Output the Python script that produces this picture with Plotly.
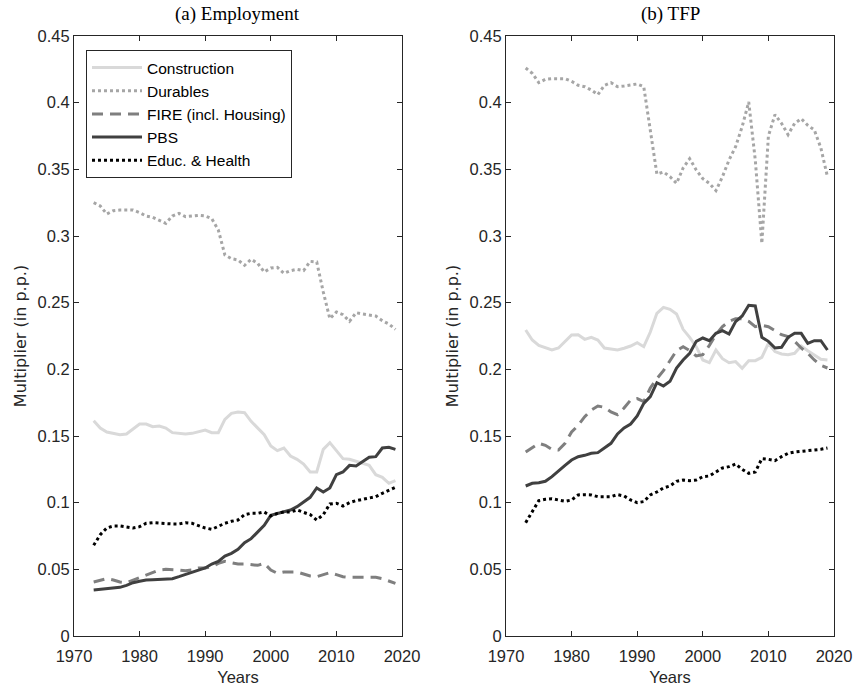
import plotly.graph_objects as go

years = list(range(1973, 2020))

# Panel (a) Employment
emp_construction = [0.1615, 0.156, 0.153, 0.152, 0.151, 0.1515, 0.155, 0.159, 0.159, 0.157,
                    0.1575, 0.156, 0.1525, 0.152, 0.1515, 0.152, 0.153, 0.1545, 0.1525, 0.1525,
                    0.1625, 0.167, 0.168, 0.1675, 0.161, 0.156, 0.151, 0.1425, 0.139, 0.141,
                    0.135, 0.1325, 0.129, 0.123, 0.123, 0.140, 0.145, 0.139, 0.133, 0.1325,
                    0.131, 0.129, 0.128, 0.121, 0.119, 0.1145, 0.1165]
emp_durables = [0.325, 0.3225, 0.3165, 0.319, 0.3195, 0.3195, 0.3195, 0.3175, 0.315, 0.314,
                0.312, 0.3095, 0.315, 0.317, 0.3145, 0.315, 0.3155, 0.315, 0.313, 0.3045,
                0.2858, 0.283, 0.282, 0.278, 0.2825, 0.2795, 0.273, 0.276, 0.2765, 0.272,
                0.274, 0.275, 0.274, 0.281, 0.2805, 0.258, 0.238, 0.243, 0.241, 0.236,
                0.2425, 0.2415, 0.241, 0.240, 0.2365, 0.234, 0.230]
emp_fire = [0.0405, 0.0415, 0.043, 0.042, 0.0405, 0.040, 0.042, 0.044, 0.046, 0.048,
            0.0495, 0.050, 0.050, 0.0495, 0.049, 0.0495, 0.051, 0.051, 0.052, 0.0545,
            0.056, 0.055, 0.054, 0.054, 0.0535, 0.053, 0.0545, 0.0495, 0.047, 0.048,
            0.048, 0.048, 0.0465, 0.045, 0.0445, 0.046, 0.0475, 0.046, 0.0445, 0.044,
            0.044, 0.044, 0.044, 0.044, 0.043, 0.041, 0.0395]
emp_pbs = [0.0345, 0.035, 0.0352, 0.0355, 0.0365, 0.038, 0.040, 0.041, 0.042, 0.0422,
           0.0425, 0.0428, 0.043, 0.0445, 0.046, 0.048, 0.049, 0.051, 0.054, 0.056,
           0.060, 0.062, 0.065, 0.070, 0.073, 0.078, 0.083, 0.0905, 0.092, 0.093,
           0.0945, 0.097, 0.1005, 0.104, 0.111, 0.108, 0.111, 0.121, 0.123, 0.128,
           0.1275, 0.131, 0.134, 0.1345, 0.141, 0.1415, 0.140]
emp_educ = [0.068, 0.076, 0.081, 0.0825, 0.0825, 0.082, 0.081, 0.082, 0.0845, 0.085,
            0.0845, 0.084, 0.084, 0.084, 0.085, 0.0845, 0.0825, 0.081, 0.080, 0.0825,
            0.0845, 0.086, 0.087, 0.091, 0.092, 0.092, 0.093, 0.090, 0.092, 0.093,
            0.093, 0.0945, 0.093, 0.091, 0.087, 0.091, 0.099, 0.0995, 0.0975, 0.100,
            0.1015, 0.1025, 0.103, 0.1045, 0.107, 0.109, 0.1115]

# Panel (b) TFP
tfp_construction = [0.2295, 0.222, 0.218, 0.216, 0.2145, 0.216, 0.221, 0.2258, 0.226, 0.2225,
                    0.224, 0.222, 0.216, 0.215, 0.2145, 0.2158, 0.2175, 0.220, 0.217, 0.228,
                    0.242, 0.2465, 0.245, 0.2415, 0.230, 0.224, 0.217, 0.207, 0.205, 0.2145,
                    0.208, 0.205, 0.2058, 0.2008, 0.2065, 0.2065, 0.209, 0.2195, 0.2133, 0.2115,
                    0.211, 0.212, 0.2175, 0.214, 0.211, 0.2075, 0.207]
tfp_durables = [0.426, 0.422, 0.415, 0.4175, 0.418, 0.418, 0.418, 0.416, 0.413, 0.412,
                0.4095, 0.406, 0.413, 0.415, 0.412, 0.4125, 0.413, 0.414, 0.412, 0.380,
                0.3465, 0.348, 0.3445, 0.3395, 0.351, 0.358, 0.3495, 0.343, 0.3395, 0.334,
                0.3445, 0.357, 0.367, 0.382, 0.4005, 0.357, 0.2945, 0.375, 0.391, 0.3845,
                0.376, 0.3845, 0.388, 0.383, 0.3795, 0.366, 0.3445]
tfp_fire = [0.138, 0.141, 0.1445, 0.143, 0.140, 0.1395, 0.1445, 0.153, 0.158, 0.1645,
            0.1695, 0.1725, 0.1715, 0.168, 0.166, 0.171, 0.177, 0.178, 0.1758, 0.186,
            0.193, 0.199, 0.207, 0.214, 0.217, 0.214, 0.210, 0.211, 0.218, 0.226,
            0.232, 0.236, 0.238, 0.238, 0.236, 0.232, 0.233, 0.232, 0.229, 0.226,
            0.2245, 0.221, 0.216, 0.212, 0.207, 0.203, 0.201]
tfp_pbs = [0.1125, 0.1145, 0.115, 0.116, 0.1195, 0.124, 0.128, 0.132, 0.1345, 0.1355,
           0.137, 0.1375, 0.141, 0.1445, 0.1515, 0.156, 0.159, 0.165, 0.1745, 0.1795,
           0.190, 0.1875, 0.191, 0.201, 0.207, 0.212, 0.221, 0.2235, 0.2215, 0.227,
           0.229, 0.2265, 0.2358, 0.240, 0.248, 0.2475, 0.224, 0.221, 0.216, 0.2165,
           0.224, 0.227, 0.227, 0.2195, 0.2215, 0.2215, 0.2145]
tfp_educ = [0.085, 0.093, 0.1015, 0.1025, 0.103, 0.102, 0.101, 0.102, 0.1058, 0.106,
            0.1058, 0.1045, 0.1045, 0.1045, 0.106, 0.105, 0.102, 0.100, 0.1008, 0.1058,
            0.108, 0.111, 0.1125, 0.116, 0.117, 0.1165, 0.117, 0.1195, 0.120, 0.123,
            0.126, 0.127, 0.129, 0.125, 0.122, 0.123, 0.133, 0.1325, 0.1315, 0.1345,
            0.137, 0.138, 0.1385, 0.139, 0.139, 0.140, 0.141]

series_names = ["Construction", "Durables", "FIRE (incl. Housing)", "PBS", "Educ. & Health"]
panel_titles = ["(a) Employment", "(b) TFP"]
x_tick_vals = [1970, 1980, 1990, 2000, 2010, 2020]
y_tick_vals = [0, 0.05, 0.1, 0.15, 0.2, 0.25, 0.3, 0.35, 0.4, 0.45]
y_tick_text = ["0", "0.05", "0.1", "0.15", "0.2", "0.25", "0.3", "0.35", "0.4", "0.45"]

styles = [
    dict(color="#d9d9d9", width=3, dash="solid"),
    dict(color="#a6a6a6", width=3, dash="3px,3px"),
    dict(color="#7f7f7f", width=3, dash="11px,7px"),
    dict(color="#404040", width=3, dash="solid"),
    dict(color="#000000", width=3, dash="3px,3px"),
]

panels = [
    [emp_construction, emp_durables, emp_fire, emp_pbs, emp_educ],
    [tfp_construction, tfp_durables, tfp_fire, tfp_pbs, tfp_educ],
]

fig = go.Figure()
for p, data in enumerate(panels):
    xa = "x" if p == 0 else "x2"
    ya = "y" if p == 0 else "y2"
    for i, vals in enumerate(data):
        fig.add_trace(go.Scatter(
            x=years, y=vals, mode="lines", name=series_names[i],
            line=styles[i], xaxis=xa, yaxis=ya, showlegend=(p == 0),
            hoverinfo="skip",
        ))

W, H = 853, 688
SANS = "Liberation Sans, Arial, Helvetica"
dom_y = [1 - 636 / H, 1 - 36 / H]
axis_common = dict(
    showline=True, linecolor="#262626", linewidth=1, mirror="ticks",
    ticks="inside", ticklen=5, tickcolor="#262626", showgrid=False, zeroline=False,
    tickfont=dict(family=SANS, size=16.5, color="#262626"),
    automargin=False,
)
xaxis_common = dict(axis_common, range=[1970, 2020], tickvals=x_tick_vals, ticklabelstandoff=5,
                    title=dict(text="Years", font=dict(family=SANS, size=16.5, color="#262626"), standoff=7))
yaxis_common = dict(axis_common, range=[0, 0.45], tickvals=y_tick_vals, ticktext=y_tick_text,
                    title=dict(text="Multiplier (in p.p.)", font=dict(family="DejaVu Sans", size=16, color="#262626"), standoff=6))

fig.update_layout(
    width=W, height=H,
    margin=dict(l=0, r=0, t=0, b=0),
    paper_bgcolor="white", plot_bgcolor="white",
    xaxis=dict(xaxis_common, domain=[74 / W, 402 / W], anchor="y"),
    yaxis=dict(yaxis_common, domain=dom_y, anchor="x"),
    xaxis2=dict(xaxis_common, domain=[506 / W, 834 / W], anchor="y2"),
    yaxis2=dict(yaxis_common, domain=dom_y, anchor="x2"),
    legend=dict(
        x=86 / W, y=1 - 50 / H, xanchor="left", yanchor="top",
        bgcolor="white", bordercolor="#262626", borderwidth=1,
        font=dict(family=SANS, size=15.5, color="#000000"),
        tracegroupgap=0, itemwidth=50,
    ),
    annotations=[
        dict(text=panel_titles[0], x=(74 + 402) / 2 / W, y=1 - 27 / H, xref="paper", yref="paper",
             xanchor="center", yanchor="bottom", showarrow=False,
             font=dict(family="Liberation Serif, Times New Roman", size=19, color="#000000")),
        dict(text=panel_titles[1], x=(506 + 834) / 2 / W, y=1 - 27 / H, xref="paper", yref="paper",
             xanchor="center", yanchor="bottom", showarrow=False,
             font=dict(family="Liberation Serif, Times New Roman", size=19, color="#000000")),
    ],
)

fig.write_html("out.html", config={"displayModeBar": False},
               post_script="document.body.style.margin='0px';document.body.style.overflow='hidden';")
